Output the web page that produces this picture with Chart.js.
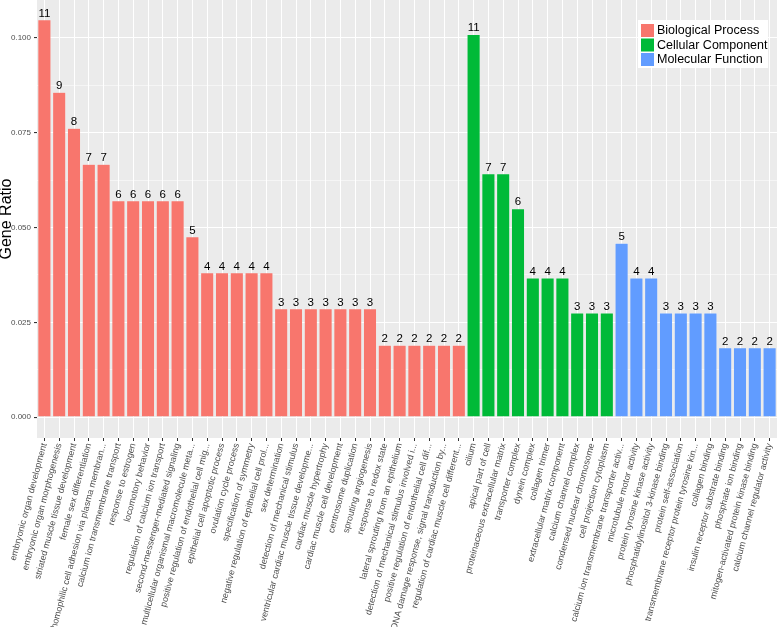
<!DOCTYPE html>
<html>
<head>
<meta charset="utf-8">
<script src="https://cdn.jsdelivr.net/npm/chart.js@4/dist/chart.umd.min.js"></script>
<style>
  html, body { margin: 0; padding: 0; background: #fff; }
  #wrap { width: 778px; height: 627px; }
</style>
</head>
<body>
<div id="wrap"><canvas id="chart" width="778" height="627"></canvas></div>
<script>
const terms = [
  'embryonic organ development', 'embryonic organ morphogenesis', 'striated muscle tissue development',
  'female sex differentiation', 'homophilic cell adhesion via plasma membran...', 'calcium ion transmembrane transport',
  'response to estrogen', 'locomotory behavior', 'regulation of calcium ion transport',
  'second-messenger-mediated signaling', 'multicellular organismal macromolecule meta...',
  'positive regulation of endothelial cell mig...', 'epithelial cell apoptotic process', 'ovulation cycle process',
  'specification of symmetry', 'negative regulation of epithelial cell prol...', 'sex determination',
  'detection of mechanical stimulus', 'ventricular cardiac muscle tissue developme...', 'cardiac muscle hypertrophy',
  'cardiac muscle cell development', 'centrosome duplication', 'sprouting angiogenesis', 'response to redox state',
  'lateral sprouting from an epithelium', 'detection of mechanical stimulus involved i...',
  'positive regulation of endothelial cell dif...', 'DNA damage response, signal transduction by...',
  'regulation of cardiac muscle cell different...',
  'cilium', 'apical part of cell', 'proteinaceous extracellular matrix', 'transporter complex', 'dynein complex',
  'collagen trimer', 'extracellular matrix component', 'calcium channel complex', 'condensed nuclear chromosome',
  'cell projection cytoplasm',
  'calcium ion transmembrane transporter activ...', 'microtubule motor activity', 'protein tyrosine kinase activity',
  'phosphatidylinositol 3-kinase binding', 'protein self-association', 'transmembrane receptor protein tyrosine kin...',
  'collagen binding', 'insulin receptor substrate binding', 'phosphate ion binding',
  'mitogen-activated protein kinase binding', 'calcium channel regulator activity'
]
const groups = [
  'BP','BP','BP','BP','BP','BP','BP','BP','BP','BP','BP','BP','BP','BP','BP','BP','BP','BP','BP','BP',
  'BP','BP','BP','BP','BP','BP','BP','BP','BP',
  'CC','CC','CC','CC','CC','CC','CC','CC','CC','CC',
  'MF','MF','MF','MF','MF','MF','MF','MF','MF','MF','MF'
]
const counts = [
  11, 9, 8, 7, 7, 6, 6, 6, 6, 6, 5, 4, 4, 4, 4, 4, 3, 3, 3, 3, 3, 3, 3, 2, 2, 2, 2, 2, 2,
  11, 7, 7, 6, 4, 4, 4, 3, 3, 3,
  5, 4, 4, 3, 3, 3, 3, 2, 2, 2, 2
]
const ratios = [
  0.1048, 0.0857, 0.0762, 0.0667, 0.0667, 0.0571, 0.0571, 0.0571, 0.0571, 0.0571,
  0.0476, 0.0381, 0.0381, 0.0381, 0.0381, 0.0381, 0.0286, 0.0286, 0.0286, 0.0286,
  0.0286, 0.0286, 0.0286, 0.0190, 0.0190, 0.0190, 0.0190, 0.0190, 0.0190,
  0.1009, 0.0642, 0.0642, 0.0550, 0.0367, 0.0367, 0.0367, 0.0275, 0.0275, 0.0275,
  0.0459, 0.0367, 0.0367, 0.0275, 0.0275, 0.0275, 0.0275, 0.0183, 0.0183, 0.0183, 0.0183
]
const groupKeys = ['BP', 'CC', 'MF']
const groupNames = ['Biological Process', 'Cellular Component', 'Molecular Function']
const groupColors = ['#F8766D', '#00BA38', '#619CFF']
const yBreaks = [0, 0.025, 0.05, 0.075, 0.1]
const yMinor = [0.0125, 0.0375, 0.0625, 0.0875]

const FONT = '"Liberation Sans", Arial, sans-serif'

const datasets = groupKeys.map((g, k) => ({
  label: groupNames[k],
  data: ratios.map((v, i) => groups[i] === g ? v : null),
  backgroundColor: groupColors[k],
  borderColor: 'rgba(255,255,255,0.35)',
  borderWidth: 0.6,
  barPercentage: 0.9,
  categoryPercentage: 1
}))

const panelBg = {
  id: 'panelBg',
  beforeDraw(chart) {
    const a = chart.chartArea, ctx = chart.ctx
    ctx.save()
    ctx.fillStyle = '#EBEBEB'
    ctx.fillRect(a.left, a.top, a.right - a.left, a.bottom - a.top)
    ctx.restore()
  }
}

const countLabels = {
  id: 'countLabels',
  afterDatasetsDraw(chart) {
    const ctx = chart.ctx
    ctx.save()
    ctx.fillStyle = '#000'
    ctx.font = '11.5px ' + FONT
    ctx.textAlign = 'center'
    ctx.textBaseline = 'bottom'
    chart.data.datasets.forEach((ds, d) => {
      chart.getDatasetMeta(d).data.forEach((bar, i) => {
        if (ds.data[i] == null) return
        ctx.fillText(String(counts[i]), bar.x, bar.y - 0.5)
      })
    })
    ctx.restore()
  }
}

// legend inside the panel, top right, plus the y axis title
const extras = {
  id: 'extras',
  afterDraw(chart) {
    const ctx = chart.ctx
    const a = chart.chartArea
    ctx.save()
    ctx.fillStyle = '#fff'
    ctx.fillRect(638, 20, 130, 48)
    ctx.font = '12.5px ' + FONT
    ctx.textBaseline = 'middle'
    chart.data.datasets.forEach((ds, k) => {
      const y = 24 + k * 14.5
      ctx.fillStyle = ds.backgroundColor
      ctx.fillRect(641, y, 13, 13)
      ctx.fillStyle = '#000'
      ctx.fillText(ds.label, 657, y + 7)
    })
    ctx.translate(6.5, (a.top + a.bottom) / 2)
    ctx.rotate(-Math.PI / 2)
    ctx.textAlign = 'center'
    ctx.font = '16px ' + FONT
    ctx.fillText('Gene Ratio', 0, 0)
    ctx.restore()
  }
}

new Chart(document.getElementById('chart'), {
  type: 'bar',
  data: { labels: terms, datasets: datasets },
  options: {
    responsive: false,
    animation: false,
    layout: { padding: { top: 0, right: 1, left: 0, bottom: 0 } },
    plugins: {
      legend: { display: false },
      tooltip: { enabled: false }
    },
    scales: {
      x: {
        stacked: true,
        grid: {
          offset: false,
          color: '#FFFFFF',
          lineWidth: 1,
          tickColor: '#333333',
          tickLength: 3
        },
        border: { display: false },
        ticks: {
          autoSkip: false,
          minRotation: 75,
          maxRotation: 75,
          color: '#4D4D4D',
          font: { family: FONT, size: 9 },
          padding: 1
        },
        afterFit(scale) {
          scale.height = 189
          scale.paddingLeft = 0
          scale.paddingRight = 0
        }
      },
      y: {
        stacked: true,
        min: -0.0055,
        max: 0.110,
        afterBuildTicks(scale) {
          scale.ticks = yBreaks.concat(yMinor).sort((a, b) => a - b).map(v => ({ value: v }))
        },
        grid: {
          color: '#FFFFFF',
          lineWidth: ctx => yBreaks.includes(ctx.tick && ctx.tick.value) ? 1.1 : 0.5,
          tickColor: ctx => yBreaks.includes(ctx.tick && ctx.tick.value) ? '#333333' : 'rgba(0,0,0,0)',
          tickLength: 3
        },
        border: { display: false },
        ticks: {
          color: '#4D4D4D',
          font: { family: FONT, size: 8 },
          padding: 3,
          callback: v => yBreaks.includes(v) ? v.toFixed(3) : ''
        },
        afterFit(scale) {
          scale.width = 37
          scale.paddingTop = 0
          scale.paddingBottom = 0
        }
      }
    }
  },
  plugins: [panelBg, countLabels, extras]
})
</script>
</body>
</html>
